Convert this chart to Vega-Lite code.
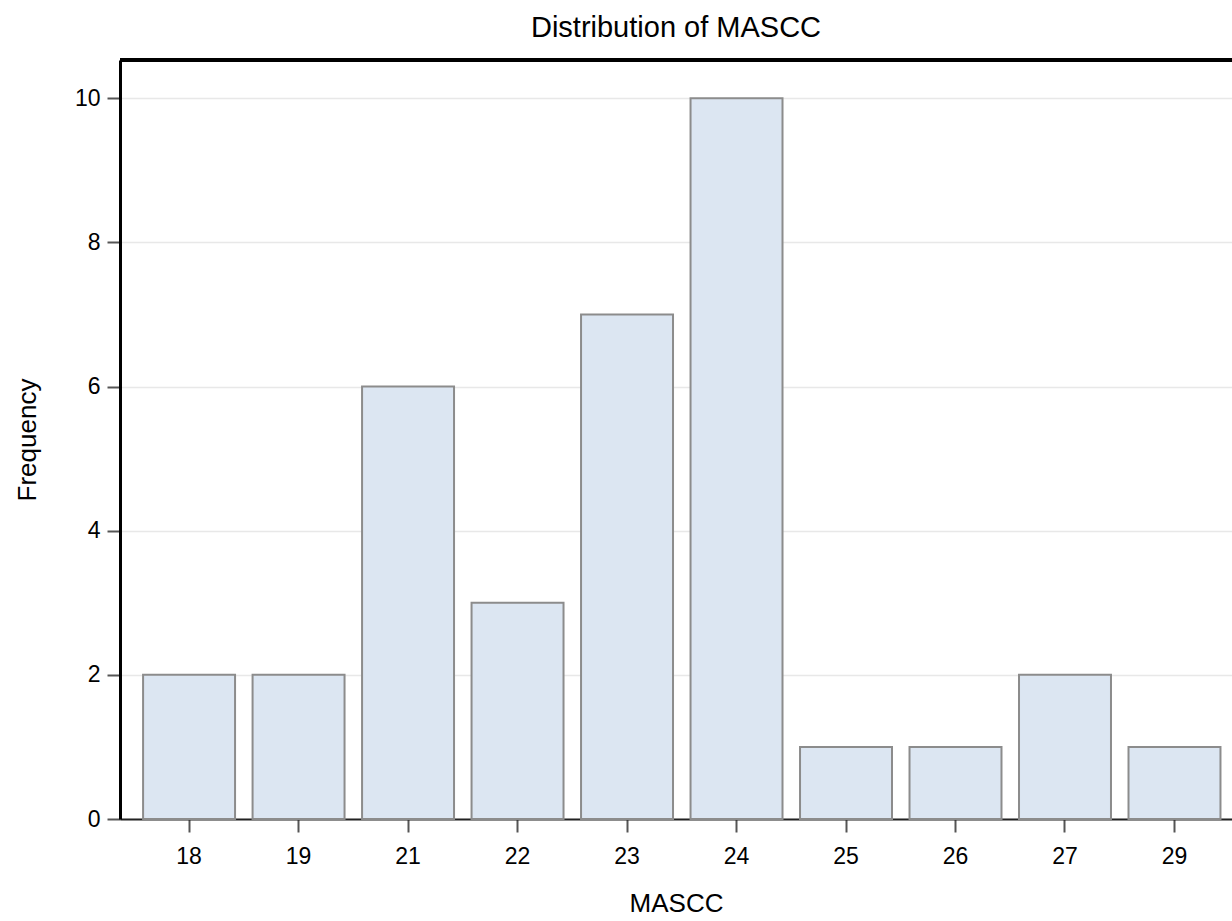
{
  "$schema": "https://vega.github.io/schema/vega-lite/v6.json",
  "autosize": "none",
  "width": 1112,
  "height": 759,
  "padding": {"left": 120, "top": 60, "right": 0, "bottom": 102},
  "background": "white",
  "title": {
    "text": "Distribution of MASCC",
    "font": "Liberation Sans",
    "fontSize": 29,
    "fontWeight": "normal",
    "color": "black",
    "anchor": "middle",
    "offset": 16
  },
  "config": {
    "view": {"stroke": null},
    "axis": {
      "labelFont": "Liberation Sans",
      "labelFontSize": 23,
      "labelColor": "black",
      "titleFont": "Liberation Sans",
      "titleFontSize": 26,
      "titleFontWeight": "normal",
      "titleColor": "black",
      "tickColor": "#555555",
      "tickWidth": 2,
      "tickSize": 13
    }
  },
  "data": {
    "values": [
      {"MASCC": "18", "Frequency": 2},
      {"MASCC": "19", "Frequency": 2},
      {"MASCC": "21", "Frequency": 6},
      {"MASCC": "22", "Frequency": 3},
      {"MASCC": "23", "Frequency": 7},
      {"MASCC": "24", "Frequency": 10},
      {"MASCC": "25", "Frequency": 1},
      {"MASCC": "26", "Frequency": 1},
      {"MASCC": "27", "Frequency": 2},
      {"MASCC": "29", "Frequency": 1}
    ]
  },
  "layer": [
    {
      "mark": {"type": "bar", "fill": "#dce6f2", "stroke": "#8c8c8c", "strokeWidth": 2},
      "encoding": {
        "x": {
          "field": "MASCC",
          "type": "ordinal",
          "sort": null,
          "scale": {"paddingInner": 0.16, "paddingOuter": 0.158, "align": 0.667},
          "axis": {
            "title": "MASCC",
            "labelAngle": 0,
            "labelPadding": 13,
            "titlePadding": 22,
            "domainColor": "#222222",
            "domainWidth": 2
          }
        },
        "y": {
          "field": "Frequency",
          "type": "quantitative",
          "scale": {"domain": [0, 10.53], "nice": false},
          "axis": {
            "title": "Frequency",
            "values": [0, 2, 4, 6, 8, 10],
            "format": "d",
            "labelPadding": 7,
            "titlePadding": 34,
            "domainColor": "black",
            "domainWidth": 3,
            "grid": true,
            "gridColor": "#e8e8e8",
            "gridWidth": 1.5
          }
        }
      }
    },
    {
      "mark": {"type": "rule", "color": "black", "strokeWidth": 3},
      "encoding": {"y": {"datum": 10.53}}
    }
  ]
}
